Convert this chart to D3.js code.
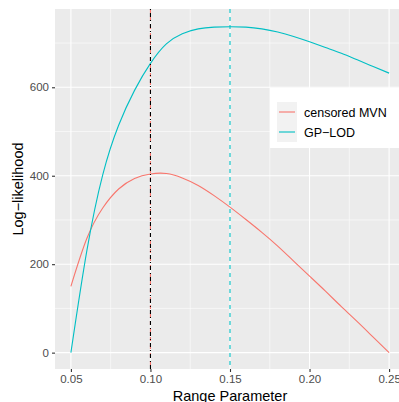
<!DOCTYPE html>
<html>
<head>
<meta charset="utf-8">
<script src="https://cdn.jsdelivr.net/npm/d3@7"></script>
<style>
  body { margin: 0; background: #fff; }
  svg { display: block; font-family: "Liberation Sans", Arial, sans-serif; }
</style>
</head>
<body>
<svg id="chart"></svg>
<script>
// Range parameter grid and log-likelihood values
const rangeParam = [0.05, 0.06, 0.07, 0.08, 0.09, 0.10, 0.11, 0.12, 0.13, 0.14, 0.15,
                    0.16, 0.17, 0.18, 0.19, 0.20, 0.21, 0.22, 0.23, 0.24, 0.25];
const censoredMVN = [150, 258, 327, 370, 394, 404, 405, 395, 378, 355, 329,
                     301, 272, 241, 207, 173, 139, 104, 70, 35, 0];
const gpLOD = [0, 230, 402, 514, 593, 654, 698, 721, 732, 736, 737,
               736, 732, 725, 715, 703, 690, 677, 662, 647, 632];
const seriesNames = ["censored MVN", "GP\u2212LOD"];
const seriesColors = ["#F8766D", "#00BFC4"];
const xTicks = [0.05, 0.10, 0.15, 0.20, 0.25];
const yTicks = [0, 200, 400, 600];
const maxLines = [0.10, 0.15]; // dashed markers at the maxima

const width = 399;
const height = 402;
const margin = { left: 55, top: 9, right: -6, bottom: 33 };

const svg = d3.select("#chart").attr("width", width).attr("height", height);

const x = d3.scaleLinear().domain([0.04, 0.26]).range([margin.left, width - margin.right]);
const y = d3.scaleLinear().domain([-37, 777]).range([height - margin.bottom, margin.top]);

// panel background
svg.append("rect")
    .attr("x", margin.left).attr("y", margin.top)
    .attr("width", width - margin.right - margin.left)
    .attr("height", height - margin.bottom - margin.top)
    .attr("fill", "#EBEBEB");

// minor grid
const xMinor = xTicks.slice(0, -1).map(d => d + 0.025).concat([0.275]);
const yMinor = [100, 300, 500, 700];
svg.append("g").selectAll("line").data(xMinor).join("line")
    .attr("x1", d => x(d)).attr("x2", d => x(d))
    .attr("y1", margin.top).attr("y2", height - margin.bottom)
    .attr("stroke", "#fff").attr("stroke-width", 0.55);
svg.append("g").selectAll("line").data(yMinor).join("line")
    .attr("x1", margin.left).attr("x2", width)
    .attr("y1", d => y(d)).attr("y2", d => y(d))
    .attr("stroke", "#fff").attr("stroke-width", 0.55);

// major grid
svg.append("g").selectAll("line").data(xTicks).join("line")
    .attr("x1", d => x(d)).attr("x2", d => x(d))
    .attr("y1", margin.top).attr("y2", height - margin.bottom)
    .attr("stroke", "#fff").attr("stroke-width", 1.1);
svg.append("g").selectAll("line").data(yTicks).join("line")
    .attr("x1", margin.left).attr("x2", width)
    .attr("y1", d => y(d)).attr("y2", d => y(d))
    .attr("stroke", "#fff").attr("stroke-width", 1.1);

// curves
const line = d3.line()
    .x((d, i) => x(rangeParam[i]))
    .y(d => y(d))
    .curve(d3.curveNatural);

[censoredMVN, gpLOD].forEach((vals, i) => {
    svg.append("path")
        .attr("d", line(vals))
        .attr("fill", "none")
        .attr("stroke", seriesColors[i])
        .attr("stroke-width", 1.1);
});

// vertical markers
maxLines.forEach((v, i) => {
    svg.append("line")
        .attr("x1", x(v)).attr("x2", x(v))
        .attr("y1", margin.top).attr("y2", height - margin.bottom)
        .attr("stroke", seriesColors[i])
        .attr("stroke-width", 1.1)
        .attr("stroke-dasharray", "4,4");
});
svg.append("line")
    .attr("x1", x(maxLines[0])).attr("x2", x(maxLines[0]))
    .attr("y1", margin.top).attr("y2", height - margin.bottom)
    .attr("stroke", "#000")
    .attr("stroke-width", 1.1)
    .attr("stroke-dasharray", "1,3,4,3");

// axes
const xAxis = svg.append("g")
    .attr("transform", `translate(0,${height - margin.bottom})`)
    .call(d3.axisBottom(x).tickValues(xTicks).tickFormat(d3.format(".2f")).tickSize(3).tickPadding(3));
const yAxis = svg.append("g")
    .attr("transform", `translate(${margin.left},0)`)
    .call(d3.axisLeft(y).tickValues(yTicks).tickSize(3).tickPadding(3));
[xAxis, yAxis].forEach(g => {
    g.select(".domain").remove();
    g.selectAll(".tick line").attr("stroke", "#333").attr("stroke-width", 1.1);
    g.selectAll(".tick text").attr("fill", "#4D4D4D").style("font-size", "11.5px")
        .style("font-family", "'Liberation Sans', Arial, sans-serif");
});

// axis titles
svg.append("text")
    .attr("x", (margin.left + width - margin.right) / 2)
    .attr("y", 401)
    .attr("text-anchor", "middle")
    .style("font-size", "14.5px")
    .text("Range Parameter");
svg.append("text")
    .attr("transform", `translate(23,${(margin.top + height - margin.bottom) / 2}) rotate(-90)`)
    .attr("text-anchor", "middle")
    .style("font-size", "14.5px")
    .text("Log\u2212likelihood");

// legend
const legend = svg.append("g").attr("transform", "translate(270,88)");
legend.append("rect").attr("width", 140).attr("height", 60).attr("fill", "#fff");
const items = legend.selectAll("g.item").data(seriesNames).join("g")
    .attr("class", "item")
    .attr("transform", (d, i) => `translate(7,${14 + i * 20})`);
items.append("rect").attr("width", 20).attr("height", 20).attr("fill", "#F2F2F2");
items.append("line")
    .attr("x1", 2).attr("x2", 18).attr("y1", 10).attr("y2", 10)
    .attr("stroke", (d, i) => seriesColors[i]).attr("stroke-width", 1.1);
items.append("text")
    .attr("x", 27).attr("y", 14.5)
    .style("font-size", "12.5px")
    .text(d => d);
</script>
</body>
</html>
